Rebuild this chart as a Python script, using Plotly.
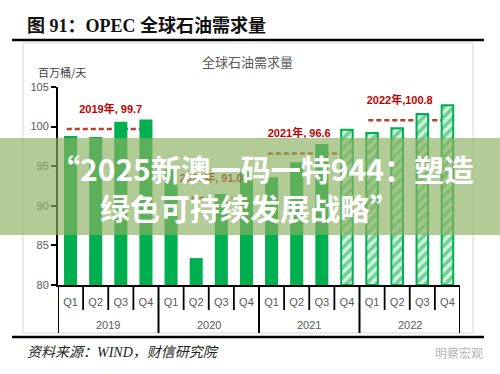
import plotly.graph_objects as go

# ---------------- data ----------------
years = ["2019", "2020", "2021", "2022"]
quarters = ["Q1", "Q2", "Q3", "Q4"]
demand = [98.8, 98.7, 100.6, 100.9,   # 2019
          94.6, 83.4, 91.5, 94.3,     # 2020
          93.6, 95.5, 97.8, 99.6,     # 2021
          99.2, 99.8, 101.6, 102.7]   # 2022
forecast_start = 11  # index of first forecast (hatched) bar: 2021 Q4
year_avg = [99.7, 91.0, 96.6, 100.8]
avg_labels = ["2019年, 99.7", "2020年, 91.0", "2021年, 96.6", "2022年,100.8"]
y_ticks = [80, 85, 90, 95, 100, 105]

# ---------------- layout geometry ----------------
W, H = 500, 374
L, R, T, B = 58, 40, 87, 89
PW, PH = W - L - R, H - T - B


def px(x):
    return (x - L) / PW


def py(y):
    return (H - B - y) / PH


GREEN = "#00B050"
RED = "#C00000"
GREY = "#595959"

n = len(demand)
idx = list(range(n))
tick_text = [quarters[i % 4] for i in idx]

fig = go.Figure()

solid_x = [i for i in idx if i < forecast_start]
hatch_x = [i for i in idx if i >= forecast_start]

fig.add_trace(go.Bar(
    x=solid_x, y=[demand[i] - 80 for i in solid_x], base=80,
    width=0.52, marker=dict(color=GREEN, line=dict(width=0)),
    showlegend=False, hoverinfo="skip"))
fig.add_trace(go.Bar(
    x=hatch_x, y=[demand[i] - 80 for i in hatch_x], base=80,
    width=0.46,
    marker=dict(color="#d4f2de", line=dict(color=GREEN, width=2),
                pattern=dict(shape="/", fgcolor=GREEN, bgcolor="#d4f2de",
                             size=7, solidity=0.5)),
    showlegend=False, hoverinfo="skip"))

# average labels (scatter text so the watermark band can cover them)
label_x = [1.6, 5.6, 9.1, 13.1]
fig.add_trace(go.Scatter(
    x=label_x, y=[v + 2.4 for v in year_avg], mode="text",
    text=avg_labels, textposition="middle center",
    textfont=dict(family="Liberation Sans, Noto Sans CJK SC", size=11,
                  color=RED, weight="bold"),
    showlegend=False, hoverinfo="skip", cliponaxis=False))

shapes = []
# dashed average lines (below bars)
for k, v in enumerate(year_avg):
    shapes.append(dict(type="line", xref="x", yref="y", layer="below",
                       x0=k * 4 - 0.15, x1=k * 4 + 3, y0=v, y1=v,
                       line=dict(color="#C0392B", width=2.5, dash="5px,3px")))

# quarter and year dividers under the x-axis
for b in range(n + 1):
    xb = b - 0.5
    is_year = (b % 4 == 0)
    shapes.append(dict(type="line", xref="x", yref="paper",
                       x0=xb, x1=xb, y0=0, y1=py(333) if is_year else py(310),
                       line=dict(color="black", width=2 if is_year else 1.8)))

# frame decorations
shapes.append(dict(type="rect", xref="paper", yref="paper",
                   x0=px(23), x1=px(473), y0=py(43), y1=py(333),
                   line=dict(color="#d9d9d9", width=1), layer="below"))
shapes.append(dict(type="line", xref="paper", yref="paper",
                   x0=px(12), x1=px(484), y0=py(40), y1=py(40),
                   line=dict(color="black", width=2.5)))
shapes.append(dict(type="line", xref="paper", yref="paper",
                   x0=px(12), x1=px(484), y0=py(337), y1=py(337),
                   line=dict(color="black", width=2.5)))
# watermark band
shapes.append(dict(type="rect", xref="paper", yref="paper", layer="above",
                   x0=px(0), x1=px(500), y0=py(235), y1=py(138),
                   fillcolor="rgba(140,176,96,0.66)", line=dict(width=0)))


def ann(x, y, text, font, xanchor="center"):
    return dict(x=px(x), y=py(y), xref="paper", yref="paper",
                xanchor=xanchor, yanchor="middle", text=text,
                showarrow=False, font=font)


centers = [k * 4 + 1.5 for k in range(len(years))]
annotations = []
for k, yr in enumerate(years):
    annotations.append(dict(x=centers[k], xref="x", y=py(325), yref="paper",
                            xanchor="center", yanchor="middle",
                            text=yr, showarrow=False,
                            font=dict(family="Liberation Sans", size=11, color=GREY)))

annotations += [
    ann(25, 26, "图 91：OPEC 全球石油需求量",
        dict(family="Liberation Serif, Noto Sans CJK SC", size=18,
             color="#111111", weight="bold"), "left"),
    ann(247, 62, "全球石油需求量",
        dict(family="Noto Sans CJK SC", size=13, color=GREY)),
    ann(36, 72, "百万桶/天",
        dict(family="Noto Sans CJK SC", size=11, color="#404040"), "left"),
    ann(25, 352, "<i>资料来源：WIND，财信研究院</i>",
        dict(family="Liberation Serif, Noto Sans CJK SC", size=14,
             color="#222222"), "left"),
    ann(485, 352, "明察宏观",
        dict(family="Noto Sans CJK SC", size=12, color="#b5b5b5"), "right"),
    ann(262, 168, "“2025新澳一码一特944：塑造",
        dict(family="Noto Sans CJK SC", size=30, color="white", weight="bold")),
    ann(250, 207, "绿色可持续发展战略”",
        dict(family="Noto Sans CJK SC", size=30, color="white", weight="bold")),
]

fig.update_layout(
    width=W, height=H, autosize=False,
    margin=dict(l=L, r=R, t=T, b=B, pad=0),
    paper_bgcolor="white", plot_bgcolor="white",
    bargap=0.5,
    shapes=shapes, annotations=annotations,
    xaxis=dict(range=[-0.5, n - 0.5], tickmode="array", tickvals=idx,
               ticktext=tick_text, showline=True, linecolor="black",
               linewidth=2, ticks="", showgrid=False, zeroline=False,
               ticklabelstandoff=6,
               tickfont=dict(family="Liberation Sans", size=11, color=GREY),
               fixedrange=True),
    yaxis=dict(range=[80, 105], tickmode="array", tickvals=y_ticks,
               showline=True, linecolor="black", linewidth=2,
               ticks="outside", ticklen=5, tickwidth=2, tickcolor="black",
               showgrid=False, zeroline=False,
               tickfont=dict(family="Liberation Sans", size=11, color=GREY),
               fixedrange=True),
)

fig.write_html("out.html",
               config={"displayModeBar": False},
               post_script="document.body.style.margin='0';")
